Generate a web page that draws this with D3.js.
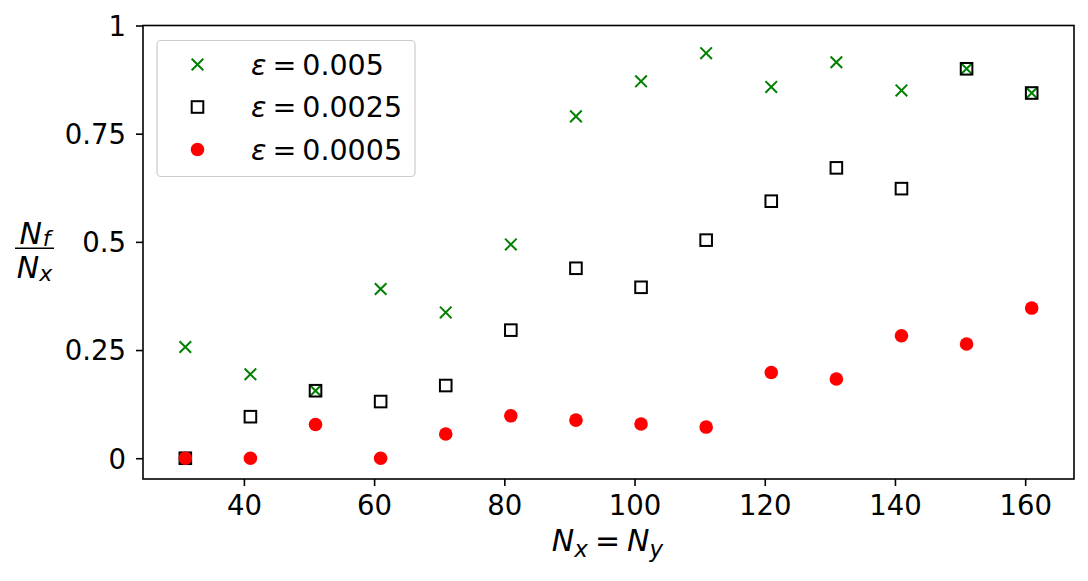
<!DOCTYPE html>
<html>
<head>
<meta charset="utf-8">
<script src="https://cdn.jsdelivr.net/npm/d3@7"></script>
<style>
  body { margin: 0; background: #fff; }
  text { font-family: "DejaVu Sans", sans-serif; fill: #000; }
</style>
</head>
<body>
<svg id="chart" width="1088" height="581"></svg>
<script>
// grid sizes (Nx = Ny)
const gridSizes = [31, 41, 51, 61, 71, 81, 91, 101, 111, 121, 131, 141, 151, 161];
// Nf / Nx for each epsilon
const eps005  = [0.257, 0.194, 0.156, 0.391, 0.337, 0.494, 0.790, 0.871, 0.936, 0.858, 0.915, 0.850, 0.900, 0.844];
const eps0025 = [0.000, 0.096, 0.156, 0.131, 0.168, 0.296, 0.439, 0.395, 0.504, 0.594, 0.671, 0.623, 0.900, 0.844];
const eps0005 = [0.000, 0.000, 0.078, 0.000, 0.056, 0.098, 0.088, 0.079, 0.072, 0.198, 0.183, 0.283, 0.264, 0.347];
const xTicks = [40, 60, 80, 100, 120, 140, 160];
const yTicks = [0, 0.25, 0.5, 0.75, 1];
const legendLabels = ["0.005", "0.0025", "0.0005"];

var margin = {top: 25.5, right: 14, bottom: 102, left: 143},
    width = 1088 - margin.left - margin.right,
    height = 581 - margin.top - margin.bottom;

var x = d3.scaleLinear().domain([24.5, 167.5]).range([0, width]);
var y = d3.scaleLinear().domain([-0.048, 1]).range([height, 0]);

var svg = d3.select("#chart");
var g = svg.append("g")
    .attr("transform", "translate(" + margin.left + "," + margin.top + ")");

// axes
var xAxis = g.append("g")
    .attr("transform", "translate(0," + height + ")")
    .call(d3.axisBottom(x).tickValues(xTicks).tickSize(7).tickPadding(9).tickFormat(d3.format("d")));
var yAxis = g.append("g")
    .call(d3.axisLeft(y).tickValues(yTicks).tickSize(7).tickPadding(10).tickFormat(d => String(d)));

[xAxis, yAxis].forEach(a => {
  a.selectAll("text").style("font-size", "27.5px").style("font-family", "DejaVu Sans");
  a.selectAll("line").attr("stroke-width", 1.6);
  a.select(".domain").remove();
});
yAxis.selectAll("text").attr("dy", "0.36em");

// frame
g.append("rect")
    .attr("width", width).attr("height", height)
    .attr("fill", "none").attr("stroke", "#000").attr("stroke-width", 1.6);

const crossPath = s => `M${-s},${-s}L${s},${s}M${-s},${s}L${s},${-s}`;

function drawCross(sel, cx, cy) {
  sel.append("path").attr("d", crossPath(5.8))
    .attr("transform", "translate(" + cx + "," + cy + ")")
    .attr("fill", "none").attr("stroke", "green").attr("stroke-width", 2);
}
function drawSquare(sel, cx, cy) {
  sel.append("rect").attr("x", cx - 5.8).attr("y", cy - 5.8)
    .attr("width", 11.6).attr("height", 11.6)
    .attr("fill", "none").attr("stroke", "#000").attr("stroke-width", 2);
}
function drawDot(sel, cx, cy) {
  sel.append("circle").attr("cx", cx).attr("cy", cy).attr("r", 6.8).attr("fill", "red");
}

// series
var pts = g.append("g");
gridSizes.forEach((n, i) => drawCross(pts, x(n), y(eps005[i])));
gridSizes.forEach((n, i) => drawSquare(pts, x(n), y(eps0025[i])));
gridSizes.forEach((n, i) => drawDot(pts, x(n), y(eps0005[i])));

// legend
var lg = svg.append("g");
lg.append("rect")
    .attr("x", 157).attr("y", 40.5).attr("width", 258).attr("height", 136).attr("rx", 4)
    .attr("fill", "#fff").attr("fill-opacity", 0.8)
    .attr("stroke", "#ccc").attr("stroke-width", 1.2);
const rowY = [64.5, 107, 149.5];
const drawers = [drawCross, drawSquare, drawDot];
legendLabels.forEach((lab, i) => {
  drawers[i](lg, 197.5, rowY[i]);
  var t = lg.append("text").attr("x", 251).attr("y", rowY[i]).attr("dy", "0.36em")
    .style("font-size", "28.5px");
  t.append("tspan").style("font-style", "italic").text("\u03b5");
  t.append("tspan").attr("dx", 6).text("=");
  t.append("tspan").attr("dx", 6).text(lab);
});

// x label: Nx = Ny
var xl = svg.append("text").attr("x", margin.left + width / 2 - 1).attr("y", 551)
    .attr("text-anchor", "middle").style("font-size", "30px");
xl.append("tspan").style("font-style", "italic").text("N");
xl.append("tspan").style("font-style", "italic").style("font-size", "23px").attr("dy", 6).text("x");
xl.append("tspan").attr("dy", -6).attr("dx", 7).text("=");
xl.append("tspan").attr("dx", 7).style("font-style", "italic").text("N");
xl.append("tspan").style("font-style", "italic").style("font-size", "23px").attr("dy", 6).text("y");

// y label: fraction Nf / Nx
var yl = svg.append("g");
var num = yl.append("text").attr("x", 35).attr("y", 244).attr("text-anchor", "middle").style("font-size", "30px");
num.append("tspan").style("font-style", "italic").text("N");
num.append("tspan").style("font-style", "italic").style("font-size", "22px").attr("dy", 2).attr("dx", 1).text("f");
yl.append("line").attr("x1", 15).attr("x2", 54).attr("y1", 248.3).attr("y2", 248.3)
    .attr("stroke", "#000").attr("stroke-width", 1.6);
var den = yl.append("text").attr("x", 34.5).attr("y", 278).attr("text-anchor", "middle").style("font-size", "30px");
den.append("tspan").style("font-style", "italic").text("N");
den.append("tspan").style("font-style", "italic").style("font-size", "22px").attr("dy", 3).text("x");
</script>
</body>
</html>
